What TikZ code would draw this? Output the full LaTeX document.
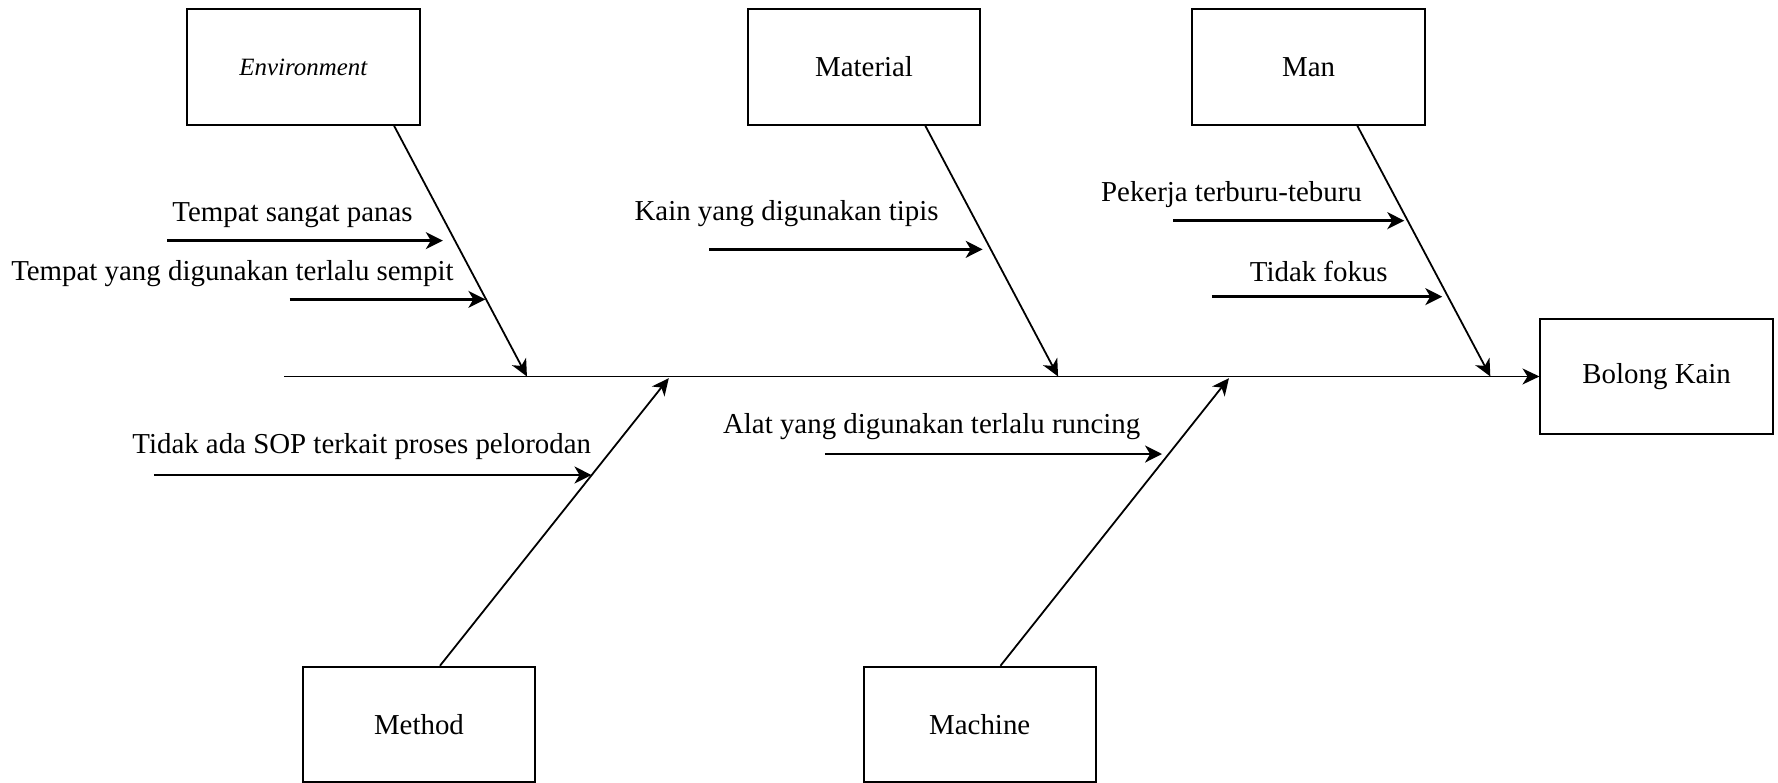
\documentclass[tikz,border=0pt]{standalone}
\usepackage{fontspec}
\setmainfont{Liberation Serif}
\usetikzlibrary{calc, arrows.meta}

\begin{document}
\begin{tikzpicture}[x=0.02cm, y=-0.02cm, font=\fontsize{14.5}{17}\selectfont,
	kategori/.style={draw, line width=1pt, minimum width=4.1cm, minimum height=2.04cm, inner sep=0pt},
	tulang/.style={line width=0.9pt, -{Stealth[length=8.5pt, width=8pt, inset=2.5pt]}},
	sebab/.style={line width=1.2pt, -{Stealth[length=8.5pt, width=8.5pt, inset=2.5pt]}}]
		
		\useasboundingbox (0,0) rectangle (1568,690);
		
		% kotak kategori
		\node[kategori] (env) at (267.5,59) {\itshape\fontsize{12.5}{14}\selectfont Environment};
		\node[kategori] (mat) at (762,59) {Material};
		\node[kategori] (man) at (1154,59) {Man};
		\node[kategori] (met) at (369.5,639) {Method};
		\node[kategori] (mac) at (864,639) {Machine};
		\node[kategori] (res) at (1461,332) {Bolong Kain};
		
		% tulang utama
		\coordinate (ekor) at (250.8,332);
		\draw[tulang] (ekor) -- (res.west);
		
		\coordinate (envTip) at (464.7,332);
		\coordinate (matTip) at (933.1,332);
		\coordinate (manTip) at (1314.3,332);
		\coordinate (metTip) at (589.8,333.5);
		\coordinate (macTip) at (1083.8,333.5);
		\draw[tulang] ($(env.south)+(80,0)$) -- (envTip);
		\draw[tulang] ($(mat.south)+(54,0)$) -- (matTip);
		\draw[tulang] ($(man.south)+(43,0)$) -- (manTip);
		\draw[tulang] ($(met.north)+(18.5,0)$) -- (metTip);
		\draw[tulang] ($(mac.north)+(18.3,0)$) -- (macTip);
		
		% sebab
		\node (panas) at (258,189.6) {Tempat sangat panas};
		\coordinate (panasA) at (147.5,212.2);
		\coordinate (panasB) at (390.5,212.2);
		\draw[sebab] (panasA) -- (panasB);
		
		\node (sempit) at (205,241) {Tempat yang digunakan terlalu sempit};
		\coordinate (sempitA) at (255.5,264);
		\coordinate (sempitB) at (428,264);
		\draw[sebab] (sempitA) -- (sempitB);
		
		\node (tipis) at (693.7,188) {Kain yang digunakan tipis};
		\coordinate (tipisA) at (625.6,219.9);
		\coordinate (tipisB) at (866.6,219.9);
		\draw[sebab] (tipisA) -- (tipisB);
		
		\node (buru) at (1086,172) {Pekerja terburu-teburu};
		\coordinate (buruA) at (1034.6,194.6);
		\coordinate (buruB) at (1238.4,194.6);
		\draw[sebab] (buruA) -- (buruB);
		
		\node (fokus) at (1163,239.6) {Tidak fokus};
		\coordinate (fokusA) at (1068.8,261.6);
		\coordinate (fokusB) at (1271.9,261.6);
		\draw[sebab] (fokusA) -- (fokusB);
		
		\node (sop) at (319,393.9) {Tidak ada SOP terkait proses pelorodan};
		\coordinate (sopA) at (135.8,418.9);
		\coordinate (sopB) at (521.6,418.9);
		\draw[sebab] (sopA) -- (sopB);
		
		\node (runcing) at (821.6,376.3) {Alat yang digunakan terlalu runcing};
		\coordinate (runcingA) at (727.5,400.4);
		\coordinate (runcingB) at (1024.8,400.4);
		\draw[sebab] (runcingA) -- (runcingB);
		
\end{tikzpicture}
\end{document}
